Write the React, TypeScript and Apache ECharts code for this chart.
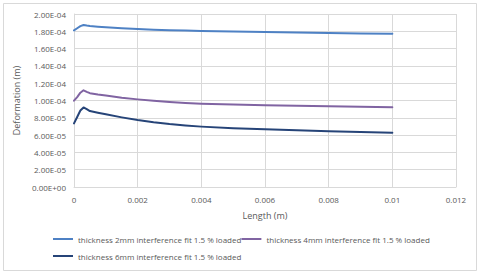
import React, { useEffect, useRef } from "react";
import * as echarts from "echarts";

const lengthX = [0, 0.0001, 0.0002, 0.0003, 0.0004, 0.0005, 0.00075, 0.001, 0.0015, 0.002, 0.0025, 0.003, 0.0035, 0.004, 0.005, 0.006, 0.007, 0.008, 0.009, 0.01];
const thick2 = [1.81e-4, 1.835e-4, 1.86e-4, 1.873e-4, 1.866e-4, 1.86e-4, 1.853e-4, 1.846e-4, 1.835e-4, 1.826e-4, 1.819e-4, 1.813e-4, 1.808e-4, 1.804e-4, 1.797e-4, 1.791e-4, 1.786e-4, 1.781e-4, 1.776e-4, 1.772e-4];
const thick4 = [9.98e-5, 1.04e-4, 1.09e-4, 1.118e-4, 1.1e-4, 1.085e-4, 1.07e-4, 1.058e-4, 1.033e-4, 1.013e-4, 9.96e-5, 9.83e-5, 9.72e-5, 9.63e-5, 9.53e-5, 9.46e-5, 9.39e-5, 9.33e-5, 9.27e-5, 9.21e-5];
const thick6 = [7.36e-5, 8.1e-5, 8.85e-5, 9.2e-5, 9.0e-5, 8.78e-5, 8.58e-5, 8.4e-5, 8.05e-5, 7.74e-5, 7.48e-5, 7.27e-5, 7.11e-5, 6.98e-5, 6.8e-5, 6.67e-5, 6.55e-5, 6.45e-5, 6.36e-5, 6.28e-5];
const seriesNames = [
  "thickness 2mm interference fit 1.5 % loaded",
  "thickness 4mm interference fit 1.5 % loaded",
  "thickness 6mm interference fit 1.5 % loaded",
];
const colors = ["#4E81C4", "#8064A2", "#264478"];

function fmtExp(v: number): string {
  const s = v.toExponential(2);
  const [m, e] = s.split("e");
  const sign = e[0] === "-" ? "-" : "+";
  const n = Math.abs(parseInt(e, 10));
  return m + "E" + sign + (n < 10 ? "0" + n : String(n));
}

export default function App() {
  const ref = useRef<HTMLDivElement>(null);
  useEffect(() => {
    if (!ref.current) return;
    const chart = echarts.init(ref.current, null, { renderer: "svg" });
    const font = "Open Sans";
    const textColor = "#595959";
    const data = [thick2, thick4, thick6];
    const legendBase = {
      itemWidth: 20,
      itemHeight: 2,
      itemGap: 0,
      icon: "rect",
      padding: 0,
      textStyle: { color: textColor, fontSize: 8, fontFamily: font },
    };
    chart.setOption({
      animation: false,
      backgroundColor: "#ffffff",
      graphic: [
        {
          type: "rect",
          shape: { x: 3.5, y: 3.5, width: 473, height: 267 },
          style: { fill: "none", stroke: "#D9D9D9", lineWidth: 1 },
          silent: true,
        },
      ],
      grid: { left: 74, right: 24, top: 14, bottom: 87 },
      legend: [
        { ...legendBase, left: 53, top: 235, orient: "horizontal", data: [seriesNames[0], seriesNames[1]] },
        { ...legendBase, left: 53, top: 252, orient: "horizontal", data: [seriesNames[2]] },
      ],
      xAxis: {
        type: "value",
        min: 0,
        max: 0.012,
        interval: 0.002,
        name: "Length (m)",
        nameLocation: "middle",
        nameGap: 24,
        nameTextStyle: { color: textColor, fontSize: 9, fontFamily: font },
        axisLine: { show: true, lineStyle: { color: "#D9D9D9" } },
        axisTick: { show: false },
        axisLabel: {
          color: textColor,
          fontSize: 8,
          fontFamily: font,
          margin: 8,
          formatter: (v: number) => String(parseFloat(v.toFixed(4))),
        },
        splitLine: { show: true, lineStyle: { color: "#D9D9D9" } },
      },
      yAxis: {
        type: "value",
        min: 0,
        max: 2e-4,
        interval: 2e-5,
        name: "Deformation (m)",
        nameLocation: "middle",
        nameRotate: 90,
        nameGap: 47,
        nameTextStyle: { color: textColor, fontSize: 9, fontFamily: font },
        axisLine: { show: true, lineStyle: { color: "#D9D9D9" } },
        axisTick: { show: false },
        axisLabel: {
          color: textColor,
          fontSize: 8,
          fontFamily: font,
          margin: 8,
          formatter: (v: number) => fmtExp(v),
        },
        splitLine: { show: true, lineStyle: { color: "#D9D9D9" } },
      },
      series: seriesNames.map((name, i) => ({
        name,
        type: "line",
        smooth: false,
        showSymbol: false,
        symbol: "none",
        lineStyle: { color: colors[i], width: 2, join: "round", cap: "round" },
        itemStyle: { color: colors[i] },
        data: lengthX.map((x, j) => [x, data[i][j]]),
      })),
    });
    return () => chart.dispose();
  }, []);
  return (
    <div
      ref={ref}
      style={{ position: "fixed", left: 0, top: 0, width: 480, height: 274 }}
    />
  );
}
